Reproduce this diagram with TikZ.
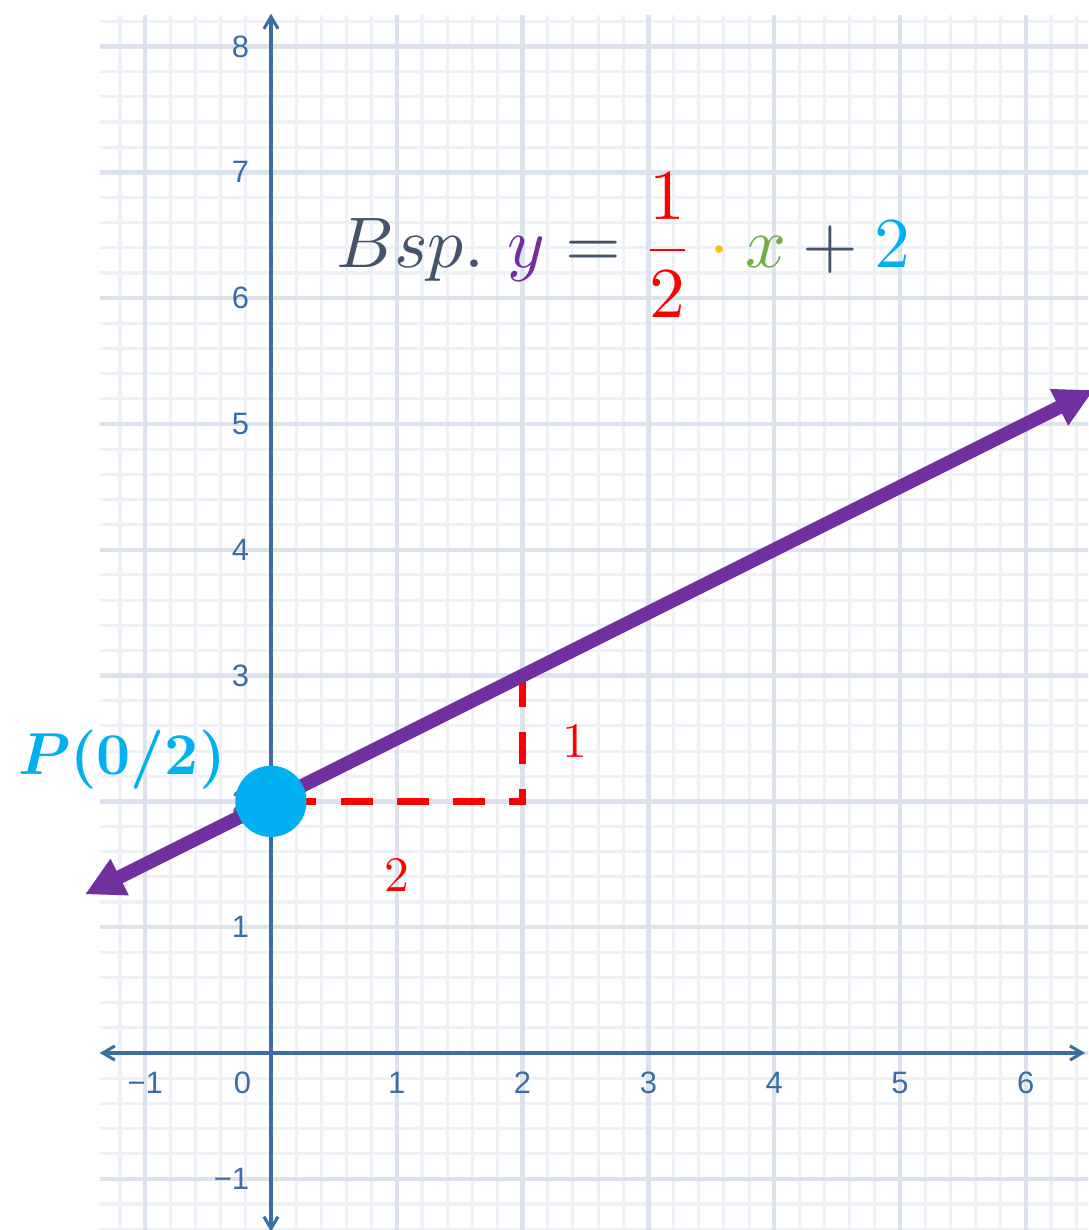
\documentclass[tikz,border=0pt]{standalone}
\usepackage{amsmath}
\usepackage{fontspec}
\newfontfamily\axisfont{Liberation Sans}
\usetikzlibrary{arrows.meta}
\definecolor{axiscol}{RGB}{59,110,165}
\definecolor{majorgrid}{RGB}{220,227,236}
\definecolor{minorgrid}{RGB}{238,242,246}
\definecolor{purp}{RGB}{112,48,160}
\definecolor{cyanb}{RGB}{0,176,240}
\definecolor{slate}{RGB}{68,84,106}
\definecolor{gold}{RGB}{255,192,0}
\definecolor{grn}{RGB}{112,173,71}
\newcommand{\pointlabel}{$\boldsymbol{P(0/2)}$}
\newcommand{\eqlabel}{$\displaystyle Bsp.\ {\color{purp}y} = {\color{red}\frac{1}{2}} \mathbin{\color{gold}\cdot} {\color{grn}x} + {\color{cyanb}2}$}
\tikzset{
  axisline/.style={axiscol, line width=0.7pt,
    {Straight Barb[length=2.7pt,width=3.2pt]}-{Straight Barb[length=2.7pt,width=3.2pt]}},
  xlab/.style={text=axiscol, font=\axisfont\fontsize{7}{8}\selectfont, inner sep=0pt},
  ylab/.style={xlab, anchor=east},
  graphline/.style={purp, line width=3.1pt,
    {Triangle[length=8.8pt,width=8.6pt]}-{Triangle[length=8.8pt,width=8.6pt]}},
  slopeline/.style={red, line width=1.5pt, line join=miter,
    dash pattern=on 7.17pt off 5.66pt on 7.17pt off 5.66pt on 5.9pt off 5.5pt on 7.17pt off 5.5pt on 7.17pt off 5.5pt on 7.17pt off 5.66pt on 12pt off 2pt},
  slopelab/.style={text=red, scale=1.12, inner sep=0pt},
  pointdot/.style={circle, fill=cyanb, minimum size=0.564cm, inner sep=0pt}
}
\begin{document}
\begin{tikzpicture}[x=1cm,y=1cm]
\useasboundingbox (-2.154,-1.407) rectangle (6.495,8.370);
% grid
\begin{scope}
  \clip (-1.36,-1.407) rectangle (6.495,8.25);
  \draw[minorgrid, line width=0.7pt] (-1.4,-1.6) grid[step=0.2] (6.6,8.4);
  \draw[majorgrid, line width=1.0pt] (-2,-2) grid[step=1] (7,9);
\end{scope}
% axes
\coordinate (xleft) at (-1.36,0);
\coordinate (xright) at (6.47,0);
\coordinate (ybottom) at (0,-1.42);
\coordinate (ytop) at (0,8.26);
\draw[axisline] (xleft) -- (xright);
\draw[axisline] (ybottom) -- (ytop);
% axis labels
\node[xlab] (xm1) at (-1,-0.238) {−1};
\node[xlab] (x0) at (-0.227,-0.238) {0};
\foreach \i in {1,...,6} { \node[xlab] (x\i) at (\i,-0.238) {\i}; }
\node[ylab] (ym1) at (-0.167,-1) {−1};
\foreach \i in {1,...,8} { \node[ylab] (y\i) at (-0.167,\i) {\i}; }
% slope triangle
\node[pointdot] (P) at (0,2) {};
\coordinate (T) at (2,3);
\coordinate (C) at (2,2);
\draw[slopeline] (T) -- (C) -- (P.center);
% graph
\coordinate (L) at (-1.479,1.2605);
\coordinate (R) at (6.54,5.27);
\draw[graphline] (L) -- (R);
\node[pointdot] (P2) at (P.center) {};
% labels
\node[slopelab] (one) at (2.417,2.48) {1};
\node[slopelab] (two) at (1.0,1.415) {2};
\node[anchor=base west, inner sep=0pt, scale=1.34, text=cyanb] (Plab) at (-2.02,2.21) {\pointlabel};
\node[anchor=base west, inner sep=0pt, scale=1.62, text=slate] (eq) at (0.51,6.24) {\eqlabel};
\end{tikzpicture}
\end{document}
